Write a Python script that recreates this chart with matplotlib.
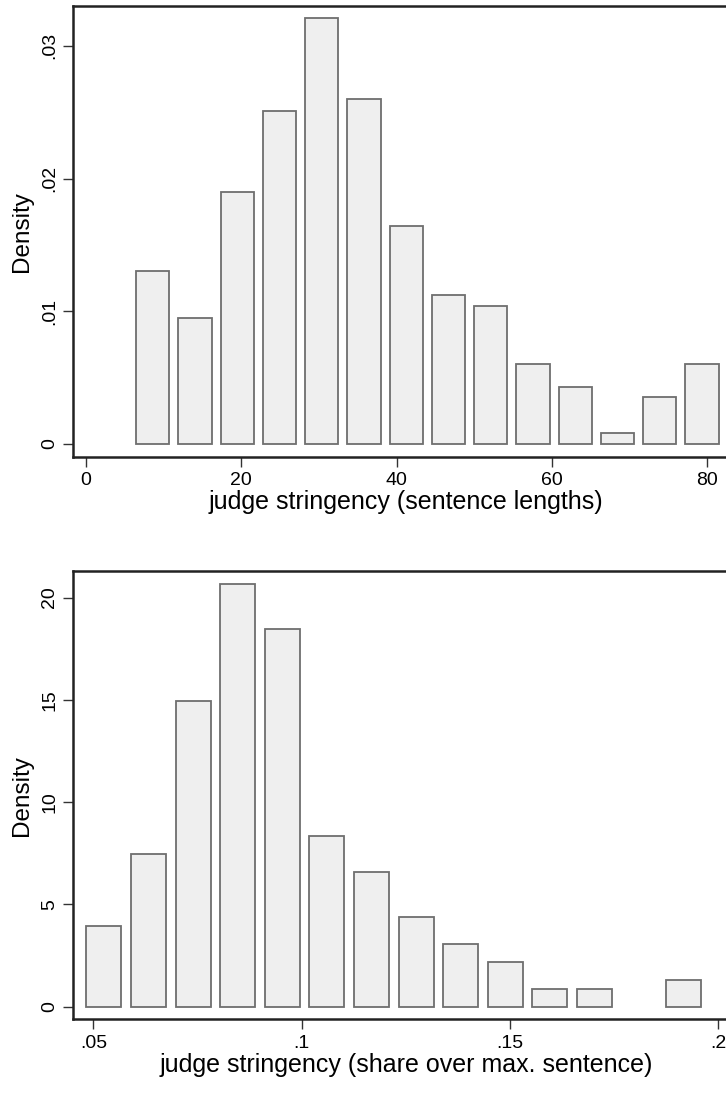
import numpy as np
import matplotlib
matplotlib.use("Agg")
import matplotlib.pyplot as plt

plt.rcParams['font.family'] = ['Liberation Sans', 'DejaVu Sans']

# top panel: judge stringency in sentence lengths
len_bin_start = 5.87
len_bin_width = 5.44
len_density = [0.0130, 0.0095, 0.0190, 0.0251, 0.0321, 0.0260, 0.01645,
               0.0112, 0.0104, 0.0060, 0.0043, 0.0008, 0.0035, 0.0060]
len_xticks = [0, 20, 40, 60, 80]
len_xticklabels = ['0', '20', '40', '60', '80']
len_yticks = [0, 0.01, 0.02, 0.03]
len_yticklabels = ['0', '.01', '.02', '.03']

# bottom panel: judge stringency as share over max. sentence
share_bin_start = 0.04717
share_bin_width = 0.010708
share_density = [3.94, 7.47, 14.95, 20.67, 18.48, 8.33, 6.57,
                 4.37, 3.05, 2.17, 0.85, 0.85, 0.0, 1.29]
share_xticks = [0.05, 0.10, 0.15, 0.20]
share_xticklabels = ['.05', '.1', '.15', '.2']
share_yticks = [0, 5, 10, 15, 20]
share_yticklabels = ['0', '5', '10', '15', '20']

fill = '#efefef'
edge = '#6e6e6e'

fig = plt.figure(figsize=(7.26, 10.93), dpi=100)
ax1 = fig.add_axes([0.101, 0.5822, 0.916, 0.4126])
ax2 = fig.add_axes([0.101, 0.0674, 0.917, 0.4102])


def draw_hist(ax, start, width, dens):
    centers = start + width * (np.arange(len(dens)) + 0.5)
    heights = np.array(dens)
    keep = heights > 0
    ax.bar(centers[keep], heights[keep], width=width * 0.787,
           color=fill, edgecolor=edge, linewidth=1.3)


def style(ax, xt, xtl, yt, ytl, xlabel):
    ax.set_xticks(xt)
    ax.set_xticklabels(xtl)
    ax.set_yticks(yt)
    ax.set_yticklabels(ytl, rotation=90, va='center')
    for s in ax.spines.values():
        s.set_linewidth(1.8)
        s.set_color('#222222')
    ax.tick_params(direction='out', length=7, width=1.0, color='#333333',
                   labelsize=14, pad=4)
    ax.set_ylabel('Density', fontsize=17.5, labelpad=6)
    ax.set_xlabel(xlabel, fontsize=18, labelpad=1)


draw_hist(ax1, len_bin_start, len_bin_width, len_density)
ax1.set_xlim(-1.64, 84)
ax1.set_ylim(-0.00096, 0.03303)
style(ax1, len_xticks, len_xticklabels, len_yticks, len_yticklabels,
      'judge stringency (sentence lengths)')

draw_hist(ax2, share_bin_start, share_bin_width, share_density)
ax2.set_xlim(0.0452, 0.205)
ax2.set_ylim(-0.62, 21.3)
style(ax2, share_xticks, share_xticklabels, share_yticks, share_yticklabels,
      'judge stringency (share over max. sentence)')

fig.savefig('out.png', dpi=100)
